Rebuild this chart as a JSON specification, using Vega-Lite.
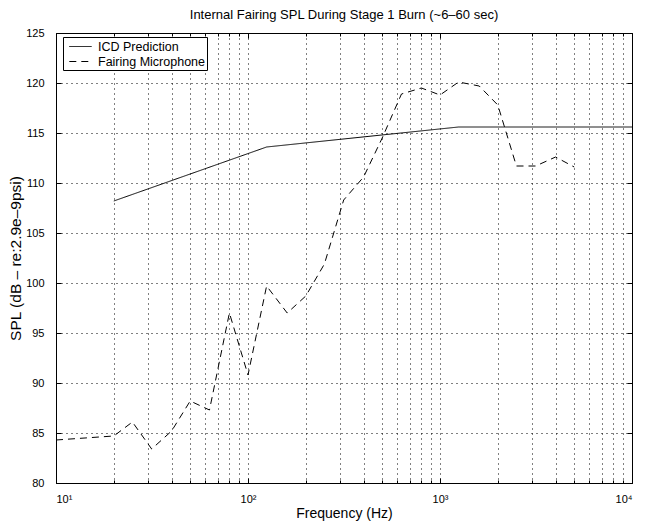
{
  "$schema": "https://vega.github.io/schema/vega-lite/v6.json",
  "autosize": {"type": "none"},
  "padding": {"left": 56, "top": 33, "right": 14, "bottom": 38},
  "width": 576,
  "height": 450,
  "background": "white",
  "title": {"text": "Internal Fairing SPL During Stage 1 Burn (~6–60 sec)", "font": "Liberation Sans", "fontSize": 13, "fontWeight": "normal", "color": "black", "offset": 5},
  "config": {
    "view": {"stroke": "black", "strokeWidth": 1},
    "axis": {"domain": false, "labelFont": "Liberation Sans", "labelFontSize": 11, "labelColor": "black", "tickColor": "black", "titleFont": "Liberation Sans", "titleFontSize": 14, "titleFontWeight": "normal", "titleColor": "black", "gridColor": "black", "gridDash": [1, 4], "gridWidth": 1}
  },
  "data": {"values": [
    {"series": "ICD Prediction", "f": 20, "spl": 108.2},
    {"series": "ICD Prediction", "f": 125, "spl": 113.6},
    {"series": "ICD Prediction", "f": 1250, "spl": 115.6},
    {"series": "ICD Prediction", "f": 10000, "spl": 115.6},
    {"series": "Fairing Microphone", "f": 10, "spl": 84.3},
    {"series": "Fairing Microphone", "f": 20, "spl": 84.7},
    {"series": "Fairing Microphone", "f": 25, "spl": 86.1},
    {"series": "Fairing Microphone", "f": 31.5, "spl": 83.4},
    {"series": "Fairing Microphone", "f": 40, "spl": 85.2},
    {"series": "Fairing Microphone", "f": 50, "spl": 88.2},
    {"series": "Fairing Microphone", "f": 63, "spl": 87.3},
    {"series": "Fairing Microphone", "f": 80, "spl": 97.0},
    {"series": "Fairing Microphone", "f": 100, "spl": 90.8},
    {"series": "Fairing Microphone", "f": 125, "spl": 99.7},
    {"series": "Fairing Microphone", "f": 160, "spl": 97.0},
    {"series": "Fairing Microphone", "f": 200, "spl": 98.7},
    {"series": "Fairing Microphone", "f": 250, "spl": 101.9},
    {"series": "Fairing Microphone", "f": 315, "spl": 108.3},
    {"series": "Fairing Microphone", "f": 400, "spl": 110.6},
    {"series": "Fairing Microphone", "f": 500, "spl": 114.5},
    {"series": "Fairing Microphone", "f": 630, "spl": 118.9},
    {"series": "Fairing Microphone", "f": 800, "spl": 119.5},
    {"series": "Fairing Microphone", "f": 1000, "spl": 118.8},
    {"series": "Fairing Microphone", "f": 1250, "spl": 120.1},
    {"series": "Fairing Microphone", "f": 1600, "spl": 119.7},
    {"series": "Fairing Microphone", "f": 2000, "spl": 117.8},
    {"series": "Fairing Microphone", "f": 2500, "spl": 111.7},
    {"series": "Fairing Microphone", "f": 3150, "spl": 111.7},
    {"series": "Fairing Microphone", "f": 4000, "spl": 112.6},
    {"series": "Fairing Microphone", "f": 5000, "spl": 111.6}
  ]},
  "resolve": {"axis": {"x": "independent", "y": "independent"}},
  "layer": [
    {
      "mark": {"type": "point", "opacity": 0},
      "encoding": {
        "x": {"field": "f", "type": "quantitative", "scale": {"type": "log", "domain": [10, 10000], "nice": false},
          "axis": {"orient": "bottom", "values": [20,30,40,50,60,70,80,90,100,200,300,400,500,600,700,800,900,1000,2000,3000,4000,5000,6000,7000,8000,9000], "labels": false, "tickSize": -3, "grid": true, "title": null}},
        "y": {"field": "spl", "type": "quantitative", "scale": {"domain": [80, 125], "nice": false, "zero": false},
          "axis": {"orient": "right", "values": [80,85,90,95,100,105,110,115,120,125], "labels": false, "tickSize": -5, "grid": true, "title": null}}
      }
    },
    {
      "mark": {"type": "point", "opacity": 0},
      "encoding": {
        "x": {"field": "f", "type": "quantitative", "axis": {"orient": "top", "values": [20,30,40,50,60,70,80,90,200,300,400,500,600,700,800,900,2000,3000,4000,5000,6000,7000,8000,9000], "labels": false, "tickSize": -3, "grid": false, "title": null}},
        "y": {"field": "spl", "type": "quantitative", "axis": null}
      }
    },
    {
      "mark": {"type": "point", "opacity": 0},
      "encoding": {
        "x": {"field": "f", "type": "quantitative", "axis": {"orient": "top", "values": [10,100,1000,10000], "labels": false, "tickSize": -5, "grid": false, "title": null}},
        "y": {"field": "spl", "type": "quantitative", "axis": null}
      }
    },
    {
      "mark": {"type": "line", "color": "black", "strokeWidth": 1},
      "encoding": {
        "x": {"field": "f", "type": "quantitative",
          "axis": {"orient": "bottom", "values": [10,100,1000,10000], "labelExpr": "datum.value == 10 ? '10¹' : datum.value == 100 ? '10²' : datum.value == 1000 ? '10³' : '10⁴'", "tickSize": -5, "labelPadding": 15, "grid": false, "title": "Frequency (Hz)", "titlePadding": 2}},
        "y": {"field": "spl", "type": "quantitative",
          "axis": {"orient": "left", "values": [80,85,90,95,100,105,110,115,120,125], "tickSize": -5, "labelPadding": 17, "grid": false, "title": "SPL (dB – re:2.9e–9psi)", "titleFontSize": 15.5, "titlePadding": 2}},
        "strokeDash": {"field": "series", "type": "nominal",
          "scale": {"domain": ["ICD Prediction", "Fairing Microphone"], "range": [[1, 0], [7, 5]]},
          "legend": {"orient": "none", "legendX": 7, "legendY": 4, "title": null, "strokeColor": "black", "fillColor": "white", "padding": 2, "labelFont": "Liberation Sans", "labelFontSize": 12.5, "labelColor": "black", "labelOffset": 10, "symbolType": "M-1.6,0H1.6", "symbolSize": 196, "symbolOffset": 8, "symbolStrokeColor": "black", "symbolFillColor": "transparent", "symbolStrokeWidth": 1, "rowPadding": 1, "cornerRadius": 0}}
      }
    }
  ]
}
